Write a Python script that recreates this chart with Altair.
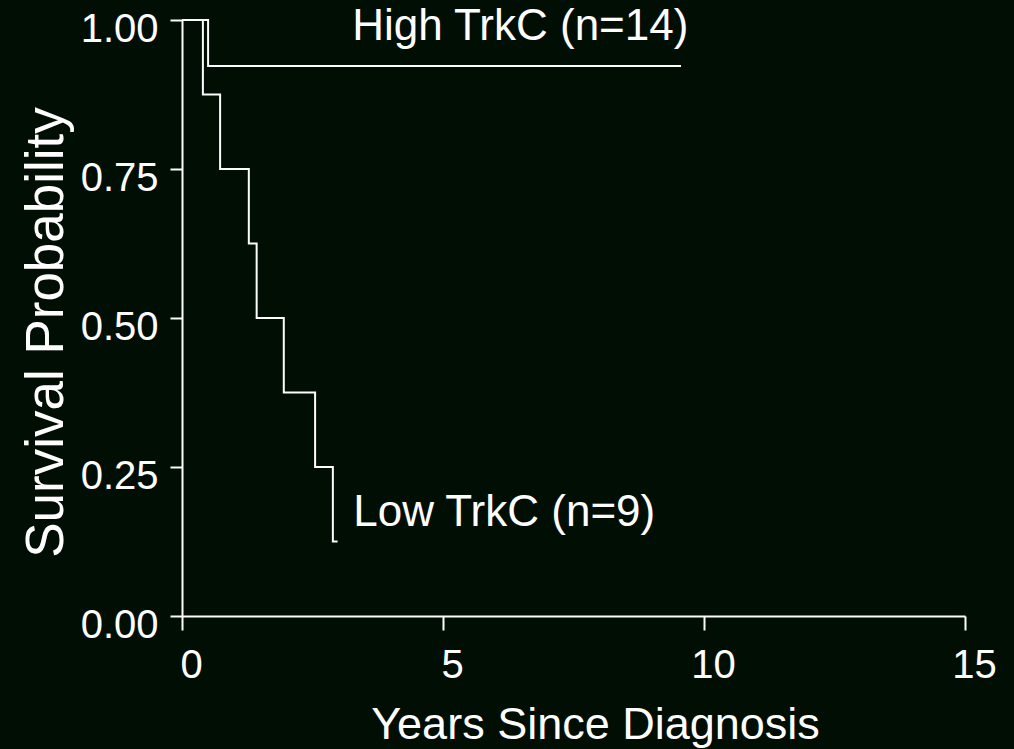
import altair as alt
import pandas as pd

# Kaplan-Meier step curves (years since diagnosis, survival probability)
high_years = [0.0, 0.50, 9.56]
high_surv = [1.0, 0.923, 0.923]

low_years = [0.0, 0.40, 0.73, 1.28, 1.43, 1.95, 2.55, 2.89, 2.98]
low_surv = [1.0, 0.875, 0.75, 0.625, 0.5, 0.375, 0.25, 0.125, 0.125]

# Curve labels and where they sit (data units)
label_text = ["High TrkC (n=14)", "Low TrkC (n=9)"]
label_years = [3.26, 3.28]
label_surv = [0.966, 0.151]

x_ticks = [0, 5, 10, 15]
y_ticks = [0.0, 0.25, 0.5, 0.75, 1.0]

BG = "#010e03"
FG = "white"
FONT = "Liberation Sans"

curves = pd.concat([
    pd.DataFrame({"years": high_years, "surv": high_surv, "group": "High"}),
    pd.DataFrame({"years": low_years, "surv": low_surv, "group": "Low"}),
])
labels = pd.DataFrame({"text": label_text, "years": label_years, "surv": label_surv})

x_scale = alt.Scale(domain=[0, 15], nice=False, zero=False)
y_scale = alt.Scale(domain=[0, 1], nice=False, zero=False)

x_axis = alt.Axis(
    values=x_ticks, title="Years Since Diagnosis", grid=False,
    domainColor=FG, domainWidth=2, tickColor=FG, tickWidth=2, tickSize=14,
    labelColor=FG, labelFont=FONT, labelFontSize=40, labelBaseline="alphabetic",
    labelPadding=47, labelOffset=9, labelFlush=False,
    titleColor=FG, titleFont=FONT, titleFontSize=45, titleFontWeight="normal",
    titleX=413, titleY=122, titleAlign="center", titleBaseline="alphabetic",
)
y_axis = alt.Axis(
    values=y_ticks, format=".2f", title="Survival Probability", grid=False,
    domainColor=FG, domainWidth=2, tickColor=FG, tickWidth=2, tickSize=12,
    labelColor=FG, labelFont=FONT, labelFontSize=40, labelBaseline="alphabetic",
    labelPadding=12, labelOffset=21, labelFlush=False,
    titleColor=FG, titleFont=FONT, titleFontSize=53, titleFontWeight="normal",
    titleAngle=270, titleX=-120, titleY=312, titleAlign="center",
    titleBaseline="alphabetic",
)

lines = alt.Chart(curves).mark_line(
    interpolate="step-after", color=FG, strokeWidth=2, clip=False
).encode(
    x=alt.X("years:Q", scale=x_scale, axis=x_axis),
    y=alt.Y("surv:Q", scale=y_scale, axis=y_axis),
    detail="group:N",
)

text = alt.Chart(labels).mark_text(
    align="left", baseline="alphabetic", color=FG, font=FONT, fontSize=44
).encode(
    x=alt.X("years:Q", scale=x_scale),
    y=alt.Y("surv:Q", scale=y_scale),
    text="text:N",
)

chart = (lines + text).properties(
    width=783, height=596, background=BG,
    padding={"left": 182, "top": 20, "right": 49, "bottom": 133},
    autosize=alt.AutoSizeParams(type="none"),
).configure_view(stroke=None)

chart.save("out.html", embed_options={"renderer": "svg", "actions": False})
